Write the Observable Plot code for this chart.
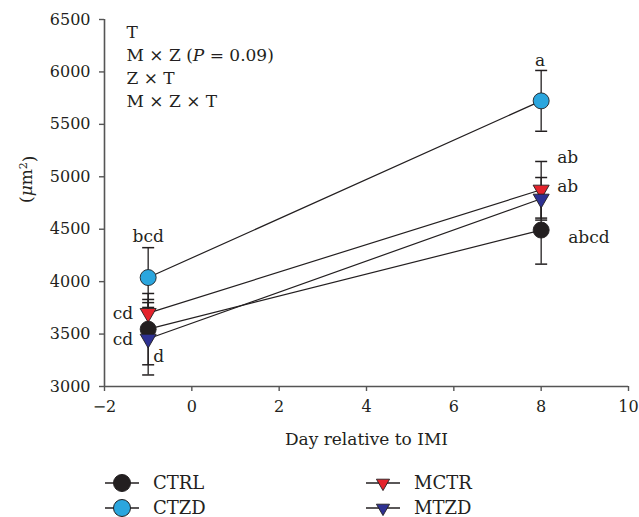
<!DOCTYPE html>
<html>
<head>
<meta charset="utf-8">
<script src="https://cdn.jsdelivr.net/npm/d3@7"></script>
<script src="https://cdn.jsdelivr.net/npm/@observablehq/plot@0.6"></script>
<style>
  html, body { margin: 0; padding: 0; background: #fff; }
  #chart { width: 639px; }
</style>
</head>
<body>
<div id="chart"></div>
<script>
// ---- data ----
const days = [-1, 8];
const seriesNames = ["CTZD", "MCTR", "CTRL", "MTZD"]; // drawing order
const legendOrder = ["CTRL", "CTZD", "MCTR", "MTZD"];
const ctrlMean = [3547, 4492];
const ctrlErr = [340, 325];
const ctzdMean = [4039, 5724];
const ctzdErr = [285, 290];
const mctrMean = [3700, 4876];
const mctrErr = [130, 270];
const mtzdMean = [3455, 4790];
const mtzdErr = [345, 203];
const xTicks = [-2, 0, 2, 4, 6, 8, 10];
const yTicks = [3000, 3500, 4000, 4500, 5000, 5500, 6000, 6500];
const statLines = ["T", "M × Z (P = 0.09)", "Z × T", "M × Z × T"];
const letterText = ["bcd", "cd", "cd", "d", "a", "ab", "ab", "abcd"];
const letterSeries = ["CTZD", "MCTR", "CTRL", "MTZD", "CTZD", "MCTR", "MTZD", "CTRL"];
const letterDay = [-1, -1, -1, -1, 8, 8, 8, 8];
const letterAt = ["top", "mean", "mean", "mean", "top", "top", "mean", "mean"];

// ---- styles ----
const FONT = "DejaVu Serif";
const colors = {CTRL: "#231f20", CTZD: "#2ba6de", MCTR: "#e4232b", MTZD: "#2e3192"};
const shapes = {CTRL: "circle", CTZD: "circle", MCTR: "triangle", MTZD: "triangle"};
const letterStyle = [
  {dx: 0, dy: -11, anchor: "middle"},
  {dx: -15, dy: 0, anchor: "end"},
  {dx: -15, dy: 10, anchor: "end"},
  {dx: 5, dy: 18, anchor: "start"},
  {dx: -1, dy: -10, anchor: "middle"},
  {dx: 16, dy: -4, anchor: "start"},
  {dx: 16, dy: -12, anchor: "start"},
  {dx: 27, dy: 7, anchor: "start"}
];

const means = {CTRL: ctrlMean, CTZD: ctzdMean, MCTR: mctrMean, MTZD: mtzdMean};
const errs = {CTRL: ctrlErr, CTZD: ctzdErr, MCTR: mctrErr, MTZD: mtzdErr};
const rows = [];
for (const s of seriesNames) days.forEach((d, i) => rows.push({series: s, day: d, mean: means[s][i], err: errs[s][i]}));

const capSymbol = {draw(ctx) { ctx.moveTo(-6, 0); ctx.lineTo(6, 0); }};
const ink = "#231f20";
const fmt = d => d < 0 ? "\u2212" + (-d) : String(d);

const marks = [
  Plot.ruleX([-2], {y1: 3000, y2: 6500, stroke: "#555", strokeWidth: 1.6}),
  Plot.ruleY([3000], {x1: -2, x2: 10, stroke: "#555", strokeWidth: 1.6}),
  Plot.axisX({ticks: xTicks, tickFormat: fmt, tickSize: 5, tickPadding: 9, fontSize: 16, label: null, stroke: "#555", strokeWidth: 1.4}),
  Plot.axisY({ticks: yTicks, tickFormat: fmt, tickSize: 5, tickPadding: 9, fontSize: 16, label: null, stroke: "#555", strokeWidth: 1.4}),
  Plot.line(rows, {x: "day", y: "mean", z: "series", stroke: ink, strokeWidth: 1.2}),
  Plot.ruleX(rows, {x: "day", y1: d => d.mean - d.err, y2: d => d.mean + d.err, stroke: ink, strokeWidth: 1.3}),
  Plot.dot(rows, {x: "day", y: d => d.mean + d.err, symbol: capSymbol, stroke: ink, strokeWidth: 1.5, fill: "none"}),
  Plot.dot(rows, {x: "day", y: d => d.mean - d.err, symbol: capSymbol, stroke: ink, strokeWidth: 1.5, fill: "none"})
];
for (const s of seriesNames) {
  const tri = shapes[s] === "triangle";
  marks.push(Plot.dot(rows.filter(d => d.series === s), {
    x: "day", y: "mean", symbol: shapes[s], r: tri ? 5.95 : 8, rotate: tri ? 180 : 0,
    fill: colors[s], fillOpacity: 1, stroke: ink, strokeWidth: 0.9
  }));
}
letterText.forEach((t, i) => {
  const st = letterStyle[i];
  const r = rows.find(d => d.series === letterSeries[i] && d.day === letterDay[i]);
  marks.push(Plot.text([r], {
    x: "day", y: d => letterAt[i] === "top" ? d.mean + d.err : d.mean,
    text: () => t, dx: st.dx, dy: st.dy, textAnchor: st.anchor, lineAnchor: "middle",
    fontSize: 17, fill: ink
  }));
});
marks.push(Plot.text([statLines.join("\n")], {frameAnchor: "top-left", lineAnchor: "top", dx: 22, dy: 2, lineHeight: 1.36, fontSize: 17, fill: ink}));
marks.push(Plot.text(["Day relative to IMI"], {frameAnchor: "bottom", lineAnchor: "middle", dy: 53, fontSize: 17, fill: ink}));
marks.push(Plot.text(["(μm²)"], {frameAnchor: "left", rotate: -90, dx: -78, lineAnchor: "middle", fontSize: 17, fill: ink}));

const chart = Plot.plot({
  width: 639, height: 460,
  marginLeft: 104, marginRight: 11, marginTop: 19, marginBottom: 74,
  x: {domain: [-2, 10]},
  y: {domain: [3000, 6500]},
  style: {fontFamily: FONT, color: ink, background: "#fff", overflow: "visible"},
  marks
});
document.getElementById("chart").appendChild(chart);

// rich-text touches: italic P, italic μ with superscript 2
d3.select(chart).selectAll("tspan").each(function() {
  const el = d3.select(this);
  if (el.text().includes("(P =")) {
    el.text(null);
    el.append("tspan").text("M × Z (");
    el.append("tspan").attr("font-style", "italic").text("P");
    el.append("tspan").text(" = 0.09)");
  }
});
d3.select(chart).selectAll("text").each(function() {
  const el = d3.select(this);
  if (el.text() === "(μm²)") {
    el.text(null);
    el.append("tspan").text("(");
    el.append("tspan").attr("font-style", "italic").text("μ");
    el.append("tspan").text("m");
    el.append("tspan").attr("dy", "-0.45em").attr("font-size", 11).text("2");
    el.append("tspan").attr("dy", "0.45em").text(")");
  }
});

// ---- legend below ----
const leg = d3.select("#chart").append("svg").attr("width", 639).attr("height", 57)
  .style("display", "block").style("font-family", FONT);
const legPos = [[122, 23], [122, 48], [383, 23], [383, 48]];
legendOrder.forEach((s, i) => {
  const [cx, cy] = legPos[i];
  const g = leg.append("g").attr("transform", `translate(${cx},${cy})`);
  g.append("line").attr("x1", -17).attr("x2", 17).attr("stroke", ink).attr("stroke-width", 1.3);
  if (shapes[s] === "circle") {
    g.append("circle").attr("r", 8.5).attr("fill", colors[s]).attr("stroke", ink).attr("stroke-width", 1);
  } else {
    g.append("path").attr("d", d3.symbol(d3.symbolTriangle, 75)()).attr("transform", "rotate(180)")
      .attr("fill", colors[s]).attr("stroke", ink).attr("stroke-width", 0.9);
  }
  g.append("text").attr("x", 31).attr("dy", "0.35em").attr("font-size", 18).attr("fill", ink).text(s);
});
</script>
</body>
</html>
